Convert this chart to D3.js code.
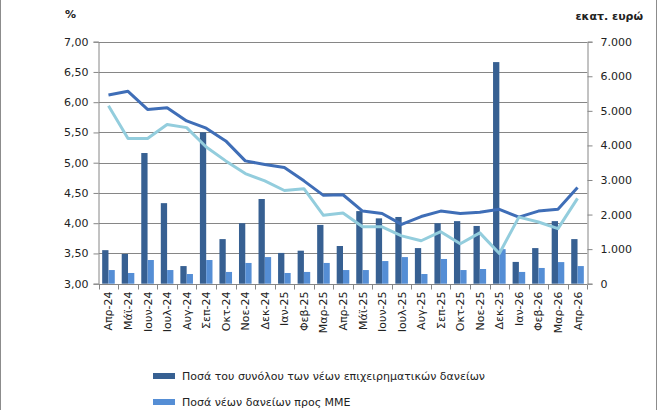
<!DOCTYPE html>
<html>
<head>
<meta charset="utf-8">
<script src="https://cdn.jsdelivr.net/npm/d3@7"></script>
<style>
  body { margin: 0; background: #fff; }
  svg { display: block; font-family: "DejaVu Sans", Verdana, sans-serif; }
</style>
</head>
<body>
<svg id="chart" width="657" height="410"></svg>
<script>
// months, amounts in mil. euro (right axis), rates in % (left axis)
const months = ["Απρ-24","Μάϊ-24","Ιουν-24","Ιουλ-24","Αυγ-24","Σεπ-24","Οκτ-24","Νοε-24","Δεκ-24",
  "Ιαν-25","Φεβ-25","Μαρ-25","Απρ-25","Μάϊ-25","Ιουν-25","Ιουλ-25","Αυγ-25","Σεπ-25","Οκτ-25",
  "Νοε-25","Δεκ-25","Ιαν-26","Φεβ-26","Μαρ-26","Απρ-26"];
const totalLoans = [970, 860, 3780, 2330, 510, 4380, 1290, 1750, 2450, 890, 955, 1700,
  1090, 2100, 1890, 1930, 1030, 1750, 1810, 1670, 6410, 630, 1030, 1810, 1290];
const smeLoans = [395, 310, 685, 395, 280, 685, 340, 600, 770, 310, 340, 600,
  395, 395, 655, 770, 280, 715, 395, 425, 1000, 340, 455, 625, 510];
const rateTotal = [6.12, 6.18, 5.88, 5.91, 5.69, 5.57, 5.36, 5.03, 4.97, 4.92, 4.70, 4.46,
  4.47, 4.20, 4.16, 3.98, 4.11, 4.20, 4.16, 4.18, 4.23, 4.10, 4.20, 4.23, 4.59];
const rateSme = [5.94, 5.40, 5.40, 5.63, 5.58, 5.26, 5.03, 4.82, 4.70, 4.54, 4.57, 4.13,
  4.17, 3.94, 3.94, 3.79, 3.71, 3.86, 3.66, 3.84, 3.50, 4.10, 4.02, 3.91, 4.41];
const leftTicks = d3.range(3, 7.01, 0.5);
const rightTicks = d3.range(0, 7001, 1000);
const legendLabels = ["Ποσά του συνόλου των νέων επιχειρηματικών δανείων", "Ποσά νέων δανείων προς ΜΜΕ"];

const colDark = "#376092", colLight = "#558ED5", lineDark = "#3F6EB7", lineLight = "#93CDDD";
const gridCol = "#868686";

const svg = d3.select("#chart");
const pLeft = 98.7, pRight = 587.3, pTop = 41.7, pBottom = 283.7;

const x = d3.scaleBand().domain(months).range([pLeft, pRight]);
const yL = d3.scaleLinear().domain([3, 7]).range([pBottom, pTop]);
const yR = d3.scaleLinear().domain([0, 7000]).range([pBottom, pTop]);
const fmtL = v => d3.format(".2f")(v).replace(".", ",");
const fmtR = v => d3.format(",")(v).replace(/,/g, ".");

// outer frame sides
svg.append("line").attr("x1", 0.5).attr("x2", 0.5).attr("y1", 0).attr("y2", 410).attr("stroke", "#8c8c8c");
svg.append("line").attr("x1", 656.5).attr("x2", 656.5).attr("y1", 0).attr("y2", 410).attr("stroke", "#8c8c8c");

// gridlines
svg.append("g").selectAll("line").data(leftTicks.slice(1)).join("line")
  .attr("x1", pLeft).attr("x2", pRight)
  .attr("y1", d => Math.round(yL(d)) + 0.5).attr("y2", d => Math.round(yL(d)) + 0.5)
  .attr("stroke", gridCol).attr("stroke-width", 1);

// left axis
const axL = svg.append("g").attr("transform", `translate(${Math.round(pLeft) - 0.5},0)`)
  .call(d3.axisLeft(yL).tickValues(leftTicks).tickFormat(fmtL).tickSize(5).tickPadding(5));
// right axis
const axR = svg.append("g").attr("transform", `translate(${Math.round(pRight) + 0.5},0)`)
  .call(d3.axisRight(yR).tickValues(rightTicks).tickFormat(fmtR).tickSize(5).tickPadding(8));
[axL, axR].forEach(a => {
  a.select(".domain").attr("stroke", gridCol);
  a.selectAll(".tick line").attr("stroke", gridCol);
  a.selectAll(".tick text").attr("fill", "#222").attr("font-size", "11px")
    .attr("font-family", "DejaVu Sans, Verdana, sans-serif");
});

// bars
const bw = 6.3;
const gBars = svg.append("g");
gBars.selectAll("rect.tot").data(months).join("rect").attr("class", "tot")
  .attr("x", d => x(d) + x.bandwidth() / 2 - bw)
  .attr("width", bw)
  .attr("y", (d, i) => yR(totalLoans[i]))
  .attr("height", (d, i) => pBottom - yR(totalLoans[i]))
  .attr("fill", colDark);
gBars.selectAll("rect.sme").data(months).join("rect").attr("class", "sme")
  .attr("x", d => x(d) + x.bandwidth() / 2)
  .attr("width", bw)
  .attr("y", (d, i) => yR(smeLoans[i]))
  .attr("height", (d, i) => pBottom - yR(smeLoans[i]))
  .attr("fill", colLight);

// bottom axis
const axB = svg.append("g").attr("transform", `translate(0,${Math.round(pBottom) + 0.5})`);
axB.append("line").attr("x1", pLeft).attr("x2", pRight).attr("stroke", gridCol);
axB.selectAll("line.tk").data(d3.range(months.length + 1)).join("line").attr("class", "tk")
  .attr("x1", i => Math.round(pLeft + i * x.step()) + 0.5)
  .attr("x2", i => Math.round(pLeft + i * x.step()) + 0.5)
  .attr("y1", 0).attr("y2", 5).attr("stroke", gridCol);
axB.selectAll("text").data(months).join("text")
  .attr("transform", d => `translate(${x(d) + x.bandwidth() / 2 + 4},7) rotate(-90)`)
  .attr("text-anchor", "end")
  .attr("font-size", "11px").attr("fill", "#222")
  .text(d => d);

// lines
const line = arr => d3.line()
  .x((d, i) => x(months[i]) + x.bandwidth() / 2)
  .y(d => yL(d))(arr);
svg.append("path").attr("d", line(rateTotal)).attr("fill", "none")
  .attr("stroke", lineDark).attr("stroke-width", 3).attr("stroke-linejoin", "round");
svg.append("path").attr("d", line(rateSme)).attr("fill", "none")
  .attr("stroke", lineLight).attr("stroke-width", 3).attr("stroke-linejoin", "round");

// axis titles
svg.append("text").attr("x", 65).attr("y", 18).attr("font-size", "11px").attr("font-weight", "bold")
  .attr("fill", "#222").text("%");
svg.append("text").attr("x", 643).attr("y", 20).attr("text-anchor", "end").attr("font-size", "11px")
  .attr("font-weight", "bold").attr("fill", "#222").text("εκατ. ευρώ");

// legend
const lg = svg.append("g");
legendLabels.forEach((t, i) => {
  const yy = 376 + i * 26;
  lg.append("rect").attr("x", 153).attr("y", yy - 3).attr("width", 22).attr("height", 6)
    .attr("fill", i === 0 ? colDark : colLight);
  lg.append("text").attr("x", 182).attr("y", yy).attr("dy", "0.35em")
    .attr("font-size", "11px").attr("fill", "#222").text(t);
});
</script>
</body>
</html>
